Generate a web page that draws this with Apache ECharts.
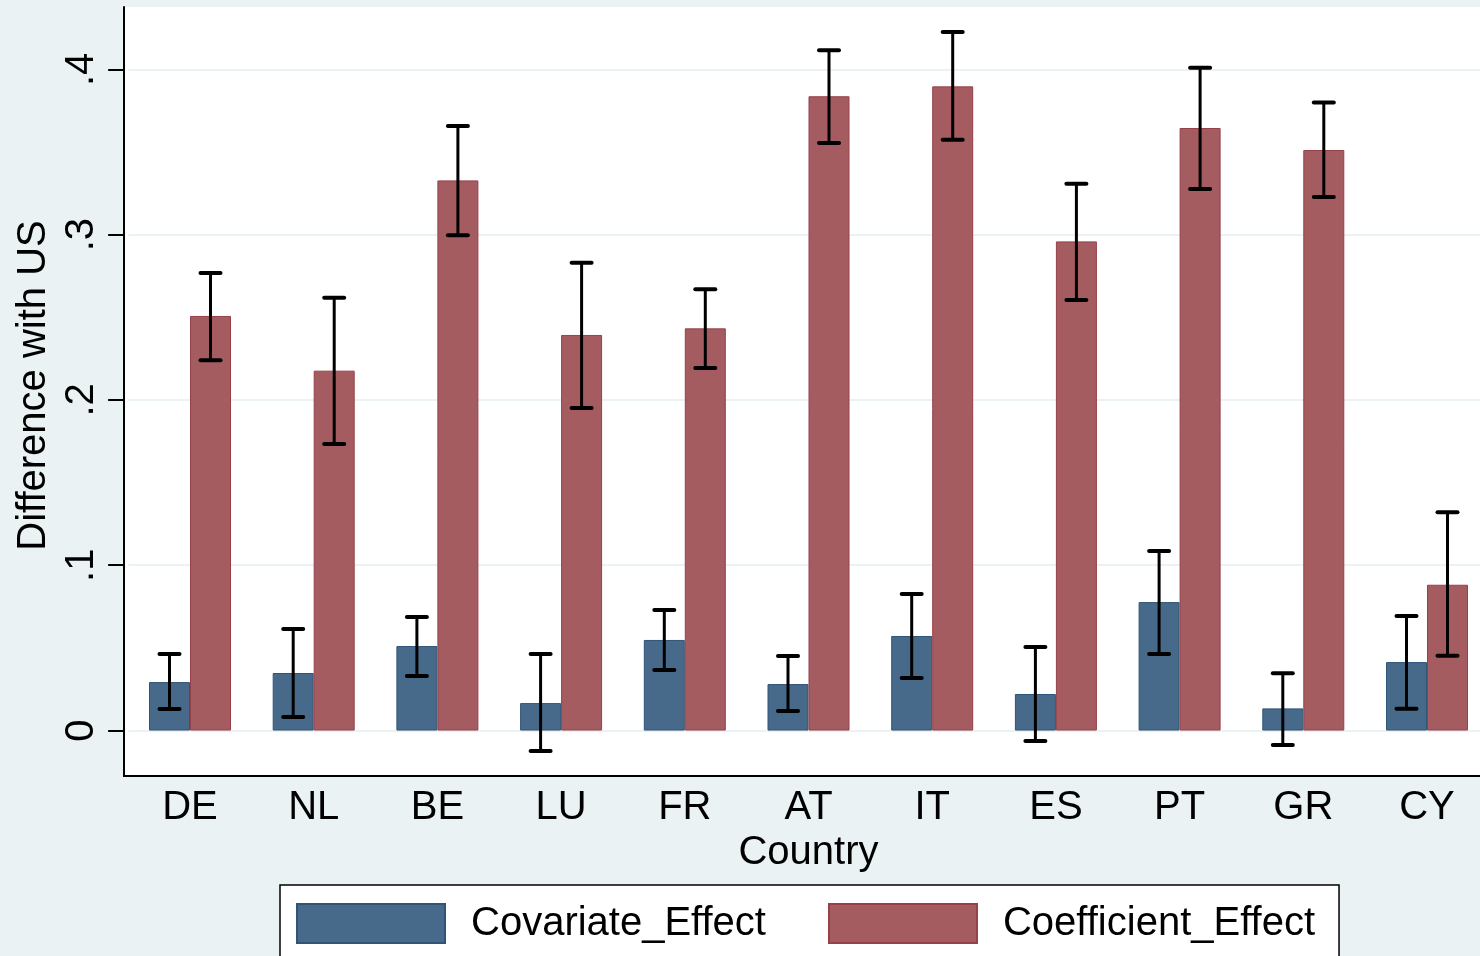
<!DOCTYPE html>
<html>
<head>
<meta charset="utf-8">
<script src="https://cdn.jsdelivr.net/npm/echarts@6/dist/echarts.min.js"></script>
<style>
  html, body { margin: 0; padding: 0; background: #EAF2F3; }
  #chart { width: 1480px; height: 956px; }
</style>
</head>
<body>
<div id="chart"></div>
<script>
// Country decomposition of the gap with the US
const countries = ['DE', 'NL', 'BE', 'LU', 'FR', 'AT', 'IT', 'ES', 'PT', 'GR', 'CY'];

const covariateEffect = [0.0293, 0.0348, 0.0511, 0.0166, 0.0548, 0.0281, 0.0572, 0.0221, 0.0777, 0.0134, 0.0414];
const covariateLow    = [0.0130, 0.0082, 0.0330, -0.0124, 0.0366, 0.0118, 0.0318, -0.0064, 0.0463, -0.0088, 0.0132];
const covariateHigh   = [0.0463, 0.0614, 0.0687, 0.0463, 0.0729, 0.0451, 0.0826, 0.0505, 0.1086, 0.0346, 0.0693];

const coefficientEffect = [0.2508, 0.2177, 0.3328, 0.2393, 0.2433, 0.3837, 0.3897, 0.2959, 0.3645, 0.3512, 0.0882];
const coefficientLow    = [0.2240, 0.1733, 0.2996, 0.1951, 0.2193, 0.3554, 0.3574, 0.2604, 0.3276, 0.3227, 0.0453];
const coefficientHigh   = [0.2768, 0.2618, 0.3657, 0.2830, 0.2669, 0.4115, 0.4226, 0.3308, 0.4010, 0.3800, 0.1320];

const yTickValues = [0, 0.1, 0.2, 0.3, 0.4];
const yTickLabels = ['0', '.1', '.2', '.3', '.4'];

const FONT = '"Liberation Sans", Arial, Helvetica, sans-serif';
const BG = '#EAF2F3';
const BLUE = '#476A8A';
const RED = '#A55C60';
const BAR_W = 41;

function errorBars(offset) {
  return function (params, api) {
    const x = api.value(0);
    const pLo = api.coord([x, api.value(1)]);
    const pHi = api.coord([x, api.value(2)]);
    const cx = pLo[0] + offset;
    const cap = 10;
    const stem = { stroke: '#000', lineWidth: 3, lineCap: 'butt' };
    const capStyle = { stroke: '#000', lineWidth: 4, lineCap: 'round' };
    return {
      type: 'group',
      children: [
        { type: 'line', shape: { x1: cx, y1: pHi[1], x2: cx, y2: pLo[1] }, style: stem },
        { type: 'line', shape: { x1: cx - cap, y1: pHi[1], x2: cx + cap, y2: pHi[1] }, style: capStyle },
        { type: 'line', shape: { x1: cx - cap, y1: pLo[1], x2: cx + cap, y2: pLo[1] }, style: capStyle }
      ]
    };
  };
}

const chart = echarts.init(document.getElementById('chart'), null, { renderer: 'canvas' });

chart.setOption({
  backgroundColor: BG,
  animation: false,
  textStyle: { fontFamily: FONT },
  grid: {
    left: 128.15,
    top: 7,
    width: 1360.7,
    bottom: 180,
    outerBoundsMode: 'none',
    containLabel: false,
    show: true,
    backgroundColor: '#ffffff',
    borderWidth: 0
  },
  graphic: [
    // plot background between the y axis line and the first category band
    { type: 'rect', left: 125, top: 7, shape: { width: 4, height: 768 }, style: { fill: '#ffffff' }, z: -1 },
    { type: 'line', shape: { x1: 123, y1: 776, x2: 130, y2: 776 }, style: { stroke: '#000', lineWidth: 2 }, z: 10 }
  ],
  xAxis: {
    type: 'category',
    data: countries,
    name: 'Country',
    nameLocation: 'middle',
    nameGap: 46,
    nameTextStyle: { fontSize: 40, color: '#000', fontFamily: FONT },
    axisLine: { onZero: false, lineStyle: { color: '#000', width: 2 } },
    axisTick: { show: false },
    axisLabel: { fontSize: 40, color: '#000', margin: 12, fontFamily: FONT },
    splitLine: { show: false }
  },
  yAxis: {
    type: 'value',
    min: -0.0275,
    max: 0.4377,
    offset: 4,
    name: 'Difference with US',
    nameLocation: 'middle',
    nameGap: 62,
    nameTextStyle: { fontSize: 40, color: '#000', fontFamily: FONT, padding: [0, 0, 0, 12] },
    axisLine: { show: true, onZero: false, lineStyle: { color: '#000', width: 2 } },
    axisTick: { show: true, customValues: yTickValues, length: 16, lineStyle: { color: '#000', width: 2 } },
    axisLabel: {
      customValues: yTickValues,
      rotate: 90,
      margin: 22,
      fontSize: 40,
      color: '#000',
      fontFamily: FONT,
      formatter: function (v) {
        const i = yTickValues.findIndex(t => Math.abs(t - v) < 1e-9);
        return i >= 0 ? yTickLabels[i] : '';
      }
    },
    splitLine: { show: true, lineStyle: { color: BG, width: 2 } }
  },
  legend: {
    left: 280,
    top: 885,
    orient: 'horizontal',
    data: ['Covariate_Effect', 'Coefficient_Effect'],
    itemWidth: 148,
    itemHeight: 39,
    itemGap: 62,
    padding: [18, 24, 18, 16],
    backgroundColor: '#ffffff',
    borderColor: '#000',
    borderWidth: 1.5,
    borderRadius: 0,
    icon: 'rect',
    textStyle: { fontSize: 40, color: '#000', fontFamily: FONT, padding: [3, 0, 0, 21] }
  },
  series: [
    {
      name: 'Covariate_Effect',
      type: 'bar',
      data: covariateEffect,
      barWidth: BAR_W,
      barGap: '0%',
      itemStyle: { color: BLUE, borderColor: '#2E5478', borderWidth: 1 },
      z: 2
    },
    {
      name: 'Coefficient_Effect',
      type: 'bar',
      data: coefficientEffect,
      barWidth: BAR_W,
      barGap: '0%',
      itemStyle: { color: RED, borderColor: '#96404A', borderWidth: 1 },
      z: 2
    },
    {
      name: 'Covariate_Effect CI',
      type: 'custom',
      renderItem: errorBars(-BAR_W / 2),
      data: countries.map((c, i) => [i, covariateLow[i], covariateHigh[i]]),
      encode: { x: 0, y: [1, 2] },
      z: 5,
      silent: true
    },
    {
      name: 'Coefficient_Effect CI',
      type: 'custom',
      renderItem: errorBars(BAR_W / 2),
      data: countries.map((c, i) => [i, coefficientLow[i], coefficientHigh[i]]),
      encode: { x: 0, y: [1, 2] },
      z: 5,
      silent: true
    }
  ]
});
</script>
</body>
</html>
